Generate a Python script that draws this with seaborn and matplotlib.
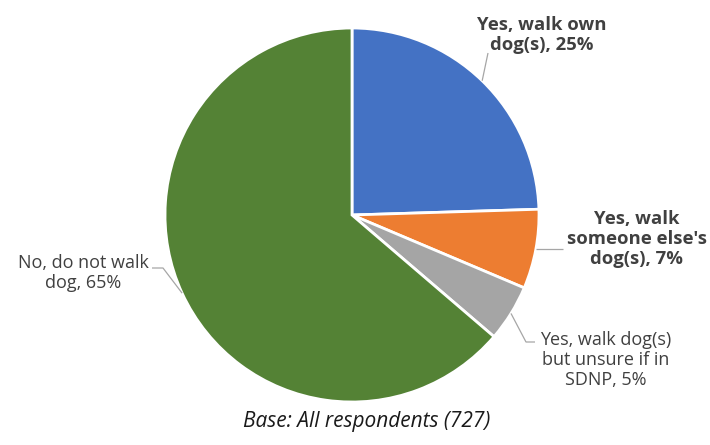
import numpy as np
import matplotlib
matplotlib.use("Agg")
import matplotlib.pyplot as plt
import seaborn as sns

# Survey answers and shares (%)
categories = ["Yes, walk own\ndog(s), 25%",
              "Yes, walk\nsomeone else's\ndog(s), 7%",
              "Yes, walk dog(s)\nbut unsure if in\nSDNP, 5%",
              "No, do not walk\ndog, 65%"]
shares = [25, 7, 5, 65]
colors = ["#4472C4", "#ED7D31", "#A5A5A5", "#548235"]
bold = [True, True, False, False]
caption = "Base: All respondents (727)"

sns.set_theme(style="white")
plt.rcParams["font.family"] = ["Open Sans", "DejaVu Sans"]

W, H = 710, 445
fig = plt.figure(figsize=(W / 100, H / 100), dpi=100)
ax = fig.add_axes([0, 0, 1, 1])


def px(x, y):
    """Pixel position (origin top-left) to data coordinates."""
    return x, H - y


cx, cy = px(352, 215)
R = 187
wedges, _ = ax.pie(shares, colors=colors, startangle=90, counterclock=False,
                   center=(cx, cy), radius=R,
                   wedgeprops=dict(edgecolor="white", linewidth=2))
ax.set_xlim(0, W)
ax.set_ylim(0, H)
ax.set_aspect("equal", adjustable="box")
ax.axis("off")


def edge_point(w, scale=1.0):
    a = np.deg2rad((w.theta1 + w.theta2) / 2)
    return cx + R * scale * np.cos(a), cy + R * scale * np.sin(a)


line_kw = dict(color="#A6A6A6", lw=0.9, solid_capstyle="butt")
text_color = "#404040"

# Label placement (pixel space) and leader-line elbows
label_pos = [(542, 35), (637, 239), (606, 360), (83, 273)]
for w, lab, (lx, ly), b in zip(wedges, categories, label_pos, bold):
    tx, ty = px(lx, ly)
    ax.text(tx, ty, lab, ha="center", va="center", fontsize=13.3 if b else 13,
            fontweight="bold" if b else "normal", color=text_color,
            linespacing=1.12)

# Leader lines
ex, ey = edge_point(wedges[0])
ax.plot([ex, px(488, 53)[0]], [ey, px(488, 53)[1]], **line_kw)

ex, ey = edge_point(wedges[1])
ax.plot([ex, px(563, 0)[0]], [ey, ey], **line_kw)

ex, ey = edge_point(wedges[2])
e1 = px(526, 342)
e2 = px(535, 342)
ax.plot([ex, e1[0], e2[0]], [ey, e1[1], e2[1]], **line_kw)

ex, ey = edge_point(wedges[3])
g1 = px(163, 268)
g2 = px(152, 268)
ax.plot([ex, g1[0], g2[0]], [ey, g1[1], g2[1]], **line_kw)

bx, by = px(367, 421)
ax.text(bx, by, caption, ha="center", va="center", fontsize=15,
        fontstyle="italic", color="#1A1A1A")

fig.savefig("out.png", dpi=100)
